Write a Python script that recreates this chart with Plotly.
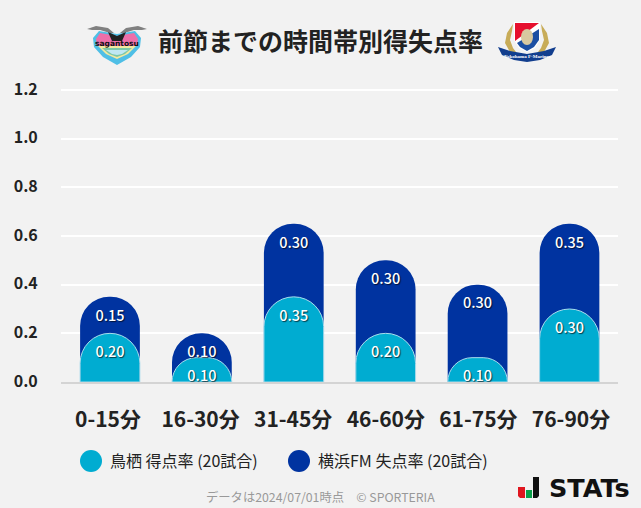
import plotly.graph_objects as go

categories = ["0-15分", "16-30分", "31-45分", "46-60分", "61-75分", "76-90分"]
tosu_scored = [0.20, 0.10, 0.35, 0.20, 0.10, 0.30]
yokohama_conceded = [0.15, 0.10, 0.30, 0.30, 0.30, 0.35]
y_ticks = [0.0, 0.2, 0.4, 0.6, 0.8, 1.0, 1.2]
title_text = "前節までの時間帯別得失点率"
legend_tosu = "鳥栖 得点率 (20試合)"
legend_yokohama = "横浜FM 失点率 (20試合)"
footer_text = "データは2024/07/01時点　© SPORTERIA"

W, H = 641, 508
CYAN, NAVY, BG = "#00acd1", "#0033a0", "#f2f2f2"
FONT = "Noto Sans CJK JP"
L, R, T, B = 61, 618, 87, 382
BAR_RANGE = [-0.533, 5.528]
LABEL_RANGE = [-0.5076, 5.5076]
Y_RANGE = [0, 1.2123]


def px(x):
    return (x - L) / (R - L)


def py(y):
    return (B - y) / (B - T)


def poly(points, color):
    s = "M" + " L".join(f"{px(x):.5f},{py(y):.5f}" for x, y in points) + " Z"
    return dict(type="path", xref="paper", yref="paper", path=s,
                fillcolor=color, line=dict(width=0), layer="above")


def ell(cx, cy, rx, ry, color):
    return dict(type="circle", xref="paper", yref="paper", x0=px(cx - rx), x1=px(cx + rx),
                y0=py(cy + ry), y1=py(cy - ry), fillcolor=color, line=dict(width=0), layer="above")


totals = [a + b for a, b in zip(tosu_scored, yokohama_conceded)]
fig = go.Figure()
# Invisible trace that keeps the base axes (tick labels, grid) on the page
fig.add_scatter(x=list(range(len(categories))), y=[0] * len(categories), mode="none", hoverinfo="skip")
fig.add_bar(x=categories, y=totals, xaxis="x2", yaxis="y2",
            marker=dict(color=NAVY, line=dict(width=0)), hoverinfo="skip")
fig.add_bar(x=categories, y=tosu_scored, xaxis="x3", yaxis="y3",
            marker=dict(color=CYAN, line=dict(width=1, color="#a9dcec")), hoverinfo="skip")

shadow = "1px 1px 1px rgba(0,0,0,0.65)"
label_font = dict(family=FONT, size=14.5, color="white", weight=500, shadow=shadow)
fig.add_scatter(x=categories, y=[t - 0.083 for t in totals], mode="text", xaxis="x3", yaxis="y3",
                text=[f"{v:.2f}" for v in yokohama_conceded], textfont=label_font, hoverinfo="skip")
fig.add_scatter(x=categories, y=[t - 0.083 for t in tosu_scored], mode="text", xaxis="x3", yaxis="y3",
                text=[f"{v:.2f}" for v in tosu_scored], textfont=label_font, hoverinfo="skip")

shapes = [
    # Sagan Tosu crest
    poly([(87, 29), (96, 26), (108, 28), (114, 33), (110, 33), (100, 30), (92, 30)], "#808080"),
    poly([(147, 29), (138, 26), (126, 28), (120, 33), (124, 33), (134, 30), (142, 30)], "#808080"),
    poly([(99, 31), (117, 34), (135, 31), (141, 38), (140, 47), (131, 57), (117, 65), (103, 57), (94, 47), (93, 38)], "#4fbfe6"),
    poly([(100, 33), (117, 36), (134, 33), (138, 39), (137, 46), (97, 46), (96, 39)], "#ee6fa9"),
    poly([(98, 46), (136, 46), (128, 54), (117, 59), (106, 54)], "#f3e9a0"),
    poly([(102, 48), (132, 48), (125, 54), (117, 57), (109, 54)], "#7cc8a8"),
    poly([(106, 50), (128, 50), (122, 54), (117, 55), (112, 54)], "#bfe7f3"),
    poly([(108, 32), (117, 36), (126, 32), (122, 41), (112, 41)], "#222222"),
    # Marinos crest
    poly([(513, 24), (507, 33), (505, 43), (510, 52), (519, 56), (513, 48), (510, 40), (512, 31)], "#c8ac58"),
    poly([(541, 24), (547, 33), (549, 43), (544, 52), (535, 56), (541, 48), (544, 40), (542, 31)], "#c8ac58"),
    poly([(514, 22), (540, 22), (540, 40), (535, 48), (527, 52), (519, 48), (514, 40)], "#ffffff"),
    poly([(515, 23), (539, 23), (515, 41)], "#e60f2d"),
    poly([(539, 29), (539, 40), (534, 47), (527, 51), (520, 47), (517, 43)], "#1b4fa3"),
    ell(527, 37, 6, 8, "#d8c9a0"),
    poly([(498, 47), (510, 51), (527, 54), (544, 51), (556, 47), (552, 55), (540, 60), (527, 62),
          (514, 60), (502, 55)], "#123e8e"),
    # Legend dots
    ell(91, 461, 11, 11, CYAN),
    ell(299, 461, 11, 11, NAVY),
    # STATs mark
    poly([(518, 487), (525, 487), (525, 498), (520, 498), (518, 496)], "#e0161f"),
    poly([(526, 490), (532, 490), (532, 498), (526, 498)], "#0aa04a"),
    poly([(533, 477), (539, 477), (539, 496), (537, 498), (533, 498)], "#111111"),
]

texts = [
    (320.5, 40, title_text, 25, "#222222", 700, "center", FONT),
    (109, 460, legend_tosu, 16, "#222222", 400, "left", FONT),
    (317, 460, legend_yokohama, 16, "#222222", 400, "left", FONT),
    (320.5, 497, footer_text, 12.3, "#999999", 400, "center", FONT),
    (547.5, 487.5, "STATs", 25.5, "#111111", 700, "left", "DejaVu Sans"),
    (117, 43.5, "sagantosu", 7.5, "#111111", 700, "center", "DejaVu Sans"),
    (527, 56.5, "Yokohama F·Marinos", 5, "#ffffff", 700, "center", "Liberation Serif"),
]
annotations = [dict(xref="paper", yref="paper", x=px(x), y=py(y), text=t, showarrow=False,
                    xanchor=a, yanchor="middle", borderpad=0,
                    font=dict(family=f, size=s, color=c, weight=w))
               for x, y, t, s, c, w, a, f in texts]


def hidden_x(anchor):
    return dict(type="category", categoryorder="array", categoryarray=categories, range=BAR_RANGE,
                overlaying="x", visible=False, fixedrange=True, anchor=anchor)


def hidden_y(anchor):
    return dict(range=Y_RANGE, overlaying="y", visible=False, fixedrange=True, anchor=anchor)


fig.update_layout(
    width=W, height=H, autosize=False, paper_bgcolor=BG, plot_bgcolor=BG,
    margin=dict(l=L, r=W - R, t=T, b=H - B, pad=0, autoexpand=False),
    barmode="overlay", bargap=0.35, barcornerradius=30, showlegend=False,
    shapes=shapes, annotations=annotations, font=dict(family=FONT),
    xaxis=dict(type="linear", range=LABEL_RANGE, tickvals=list(range(len(categories))), ticktext=categories,
               showgrid=False, zeroline=False, showline=True, linecolor="#d4d4d4", linewidth=2, ticks="outside",
               ticklen=18, tickcolor="rgba(0,0,0,0)", tickwidth=1, fixedrange=True,
               tickfont=dict(family=FONT, size=21, color="#222222", weight=700)),
    yaxis=dict(range=Y_RANGE, tickvals=y_ticks, ticktext=[f"{v:.1f}" for v in y_ticks],
               showgrid=True, gridcolor="#ffffff", gridwidth=2, zeroline=False, fixedrange=True,
               ticks="outside", ticklen=19, tickcolor="rgba(0,0,0,0)", ticklabelshift=-1,
               tickfont=dict(family=FONT, size=16, color="#222222", weight=700)),
    xaxis2=hidden_x("y2"), yaxis2=hidden_y("x2"),
    xaxis3=hidden_x("y3"), yaxis3=hidden_y("x3"),
)
fig.write_html("out.html", config=dict(displayModeBar=False),
               post_script=f"document.body.style.margin='0';document.body.style.background='{BG}';")
